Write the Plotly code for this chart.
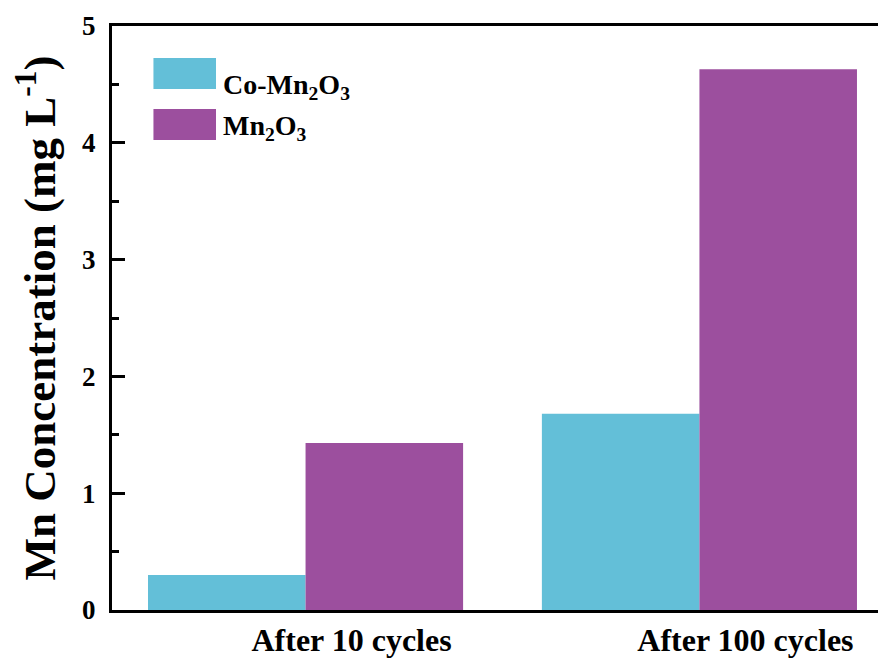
import plotly.graph_objects as go

categories = ["After 10 cycles", "After 100 cycles"]
series_names = ["Co-Mn<sub>2</sub>O<sub>3</sub>", "Mn<sub>2</sub>O<sub>3</sub>"]
co_mn2o3 = [0.30, 1.68]
mn2o3 = [1.43, 4.63]
series_values = [co_mn2o3, mn2o3]
colors = ["#63BFD8", "#9C4F9E"]
y_ticks = [0, 1, 2, 3, 4, 5]

FONT = "Liberation Serif, Times New Roman, serif"

fig = go.Figure()
for name, vals, col in zip(series_names, series_values, colors):
    fig.add_trace(go.Bar(
        x=categories, y=vals, name=name,
        marker=dict(color=col, line=dict(width=0)),
        showlegend=False,
    ))

# manual legend (large swatches like the reference)
legend_rows = [(0.945, 0.892, 0.897), (0.858, 0.805, 0.827)]
for (y1, y0, yt), name, col in zip(legend_rows, series_names, colors):
    fig.add_shape(type="rect", xref="paper", yref="paper",
                  x0=0.053, x1=0.133, y0=y0, y1=y1,
                  fillcolor=col, line=dict(width=0))
    fig.add_annotation(xref="paper", yref="paper", x=0.139, y=yt,
                       xanchor="left", yanchor="middle", showarrow=False,
                       text=name,
                       font=dict(family=FONT, size=28, color="black", weight="bold"))

# page body has an 8px default margin; compensate in the figure margins
fig.update_layout(
    width=886, height=659,
    margin=dict(l=104, r=0, t=18, b=57),
    paper_bgcolor="white", plot_bgcolor="white",
    barmode="group", bargap=0.2, bargroupgap=0,
    font=dict(family=FONT, color="black"),
)
fig.update_xaxes(
    type="category",
    range=[-0.4914, 1.494],
    showline=True, linecolor="black", linewidth=3, mirror=True,
    ticks="", showgrid=False, zeroline=False,
    tickfont=dict(family=FONT, size=32, color="black", weight="bold"),
    ticklabelshift=46, ticklabelstandoff=0,
    automargin=False,
)
fig.update_yaxes(
    range=[0, 5],
    tickvals=y_ticks,
    showline=True, linecolor="black", linewidth=3, mirror=False,
    ticks="inside", ticklen=13, tickwidth=3, tickcolor="black",
    minor=dict(dtick=0.5, ticks="inside", ticklen=7, tickwidth=3, tickcolor="black", showgrid=False),
    showgrid=False, zeroline=False,
    tickfont=dict(family=FONT, size=27, color="black", weight="bold"),
    ticklabelstandoff=8,
    title=dict(text="Mn Concentration (mg L<sup>-1</sup>)",
               font=dict(family=FONT, size=45, color="black", weight="bold"),
               standoff=14),
    automargin=False,
)

fig.write_html("out.html")
